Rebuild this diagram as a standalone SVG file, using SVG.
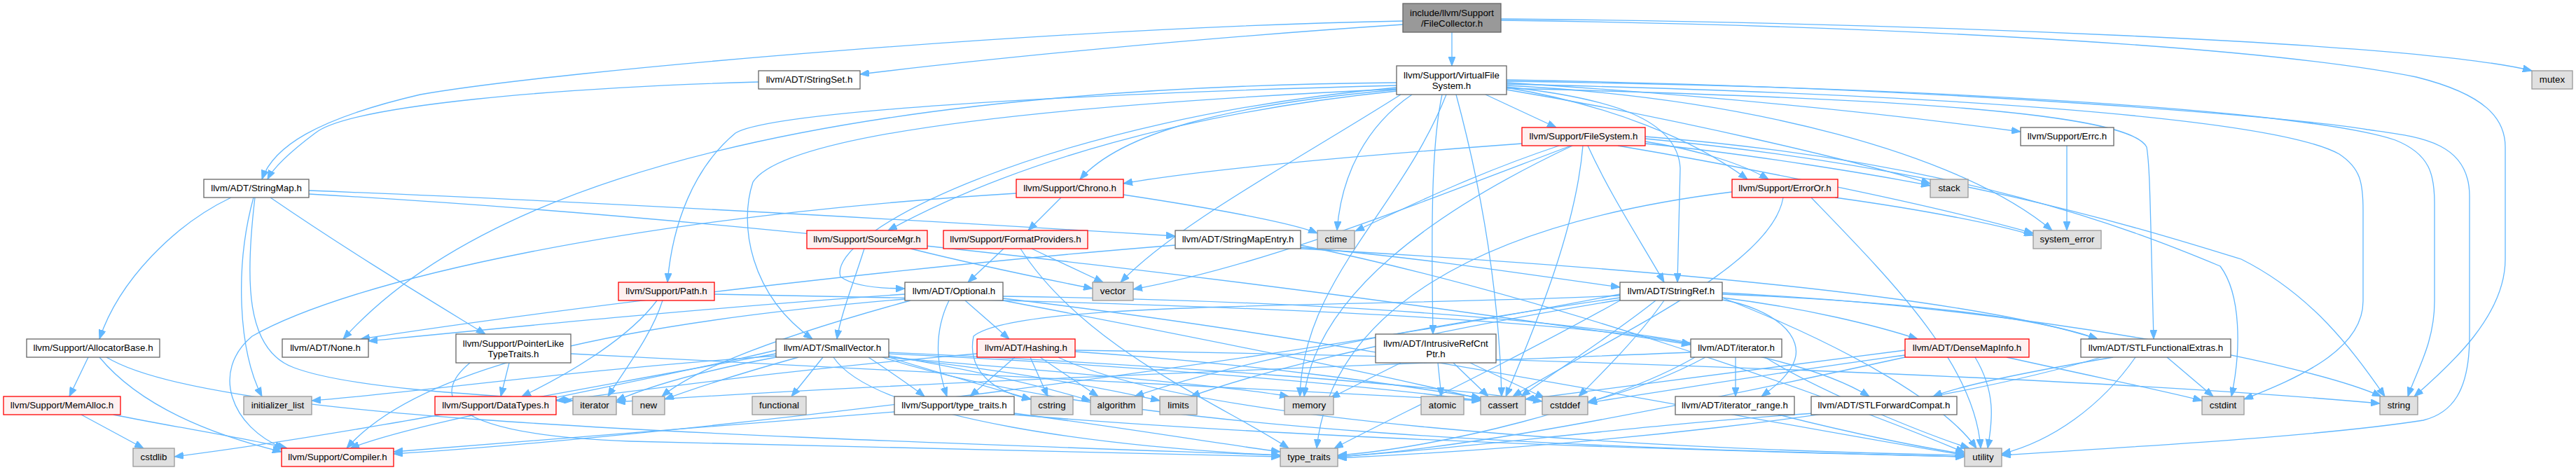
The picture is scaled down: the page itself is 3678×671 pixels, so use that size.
<svg xmlns="http://www.w3.org/2000/svg" width="3678" height="671" viewBox="0 0 3678 671">
<style>
.node rect{stroke-width:1.3}
.w rect{fill:#ffffff;stroke:#666666}
.r rect{fill:#FFF0F0;stroke:#FF0000}
.g rect{fill:#E0E0E0;stroke:#999999}
.root rect{fill:#999999;stroke:#666666}
text{font-family:"Liberation Sans",Arial,Helvetica,sans-serif;font-size:13.33px;text-anchor:middle;fill:#000000}
#edges path{fill:none;stroke:#63B8FF;stroke-width:1.3;marker-end:url(#a)}
</style>
<defs>
<marker id="a" markerWidth="13" markerHeight="10" refX="13" refY="5" orient="auto" markerUnits="userSpaceOnUse"><path d="M0,0L13,5L0,10z" fill="#63B8FF" stroke="#63B8FF" stroke-width="1"/></marker>
</defs>
<rect width="3678" height="671" fill="#ffffff"/>
<g id="edges">
<path d="M2003,30 C1500,40 800,100 600,135 C450,170 390,210 374,256"/>
<path d="M2003,35 C1700,55 1400,85 1228,106"/>
<path d="M2073,46 L2073,94"/>
<path d="M2143,27 C2700,32 3450,60 3615,101"/>
<path d="M2143,29 C2600,35 3200,60 3450,110 C3550,135 3577,170 3577,210 L3577,370 C3577,450 3500,520 3447,566"/>
<path d="M1083,117 C800,125 500,150 450,190 C410,220 390,240 382,256"/>
<path d="M441,272 C900,290 1400,320 1678,337"/>
<path d="M441,277 C1200,320 2000,430 2414,492"/>
<path d="M330,282 C250,320 170,400 142,484"/>
<path d="M362,282 C335,380 340,500 374,566"/>
<path d="M364,282 C350,400 350,500 420,525 C500,555 700,565 818,572"/>
<path d="M386,282 C500,360 600,420 693,477"/>
<path d="M1994,128 C1750,150 1600,190 1542,256"/>
<path d="M1994,130 C1700,160 1450,230 1268,329"/>
<path d="M1994,122 C1500,135 1100,160 1050,190 C990,240 960,320 953,403"/>
<path d="M1994,125 C1500,170 1180,330 1200,395 C1220,410 1260,412 1292,412"/>
<path d="M1994,127 C1500,150 1120,190 1075,260 C1055,320 1070,420 1160,484"/>
<path d="M1994,118 C1200,125 700,250 490,484"/>
<path d="M2000,135 C1850,230 1680,320 1600,403"/>
<path d="M2065,135 C2000,300 1860,400 1856,566"/>
<path d="M2016,135 C1950,180 1915,250 1909,329"/>
<path d="M2059,135 C2045,200 2043,300 2046,477"/>
<path d="M2079,135 C2110,250 2140,400 2144,566"/>
<path d="M2121,135 L2222,182"/>
<path d="M2151,124 C2300,140 2395,170 2399,240 L2395,403"/>
<path d="M2151,118 C2500,140 2750,170 2885,188"/>
<path d="M2151,125 C2300,150 2420,200 2495,256"/>
<path d="M2151,128 C2400,170 2650,230 2756,262"/>
<path d="M2151,122 C2500,140 2800,220 2930,329"/>
<path d="M2151,116 C2800,125 3300,160 3420,200 C3470,220 3476,250 3476,290 L3476,430 C3476,490 3450,530 3438,566"/>
<path d="M2151,120 C2800,135 3250,170 3340,220 C3370,240 3374,260 3374,300 L3374,430 C3374,500 3280,540 3204,570"/>
<path d="M2151,126 C2700,140 3040,160 3065,210 C3070,240 3070,300 3075,484"/>
<path d="M2151,114 C2800,125 3300,170 3380,185 C3450,195 3526,200 3526,280 L3526,480 C3526,560 3500,590 3460,600 C3300,625 3000,640 2858,650"/>
<path d="M2173,205 C1900,225 1700,245 1604,262"/>
<path d="M2226,208 C2100,250 2000,300 1935,330"/>
<path d="M2243,208 C2000,300 1800,380 1618,413"/>
<path d="M2245,208 C2050,300 1880,420 1862,566"/>
<path d="M2260,208 C2250,330 2190,470 2150,566"/>
<path d="M2267,208 C2300,280 2340,340 2376,403"/>
<path d="M2349,202 C2430,215 2490,235 2525,256"/>
<path d="M2349,205 C2500,220 2680,250 2756,265"/>
<path d="M2310,208 C2500,240 2750,290 2903,333"/>
<path d="M2349,198 C2800,240 3100,340 3200,370 C3300,420 3360,500 3405,566"/>
<path d="M2349,195 C2800,230 3050,330 3170,380 C3200,420 3200,500 3186,566"/>
<path d="M1515,282 L1468,329"/>
<path d="M1604,278 C1750,300 1850,320 1881,333"/>
<path d="M1451,276 C900,310 500,400 360,480 C300,530 330,610 405,640"/>
<path d="M2620,282 C2750,300 2850,320 2903,336"/>
<path d="M2546,282 C2530,380 2300,480 2160,566"/>
<path d="M2473,274 C2100,320 1900,450 1880,640"/>
<path d="M2586,282 C2700,400 2820,520 2828,640"/>
<path d="M2951,208 L2951,329"/>
<path d="M1234,355 C1220,400 1200,450 1195,484"/>
<path d="M1300,355 C1400,380 1500,400 1560,412"/>
<path d="M1433,355 L1382,403"/>
<path d="M1473,355 L1575,403"/>
<path d="M1457,355 C1550,500 1750,580 1840,640"/>
<path d="M1678,350 C1300,380 800,440 515,484"/>
<path d="M1857,353 C2050,370 2200,395 2313,410"/>
<path d="M1857,355 C2300,380 2800,420 2995,484"/>
<path d="M1857,350 C2200,420 2600,560 2805,646"/>
<path d="M938,429 C900,480 820,530 745,566"/>
<path d="M946,429 C930,480 890,530 868,566"/>
<path d="M1020,420 C1600,430 2200,450 2414,491"/>
<path d="M1355,429 C1330,480 1340,530 1352,566"/>
<path d="M1378,429 L1441,484"/>
<path d="M1292,420 C1000,440 700,470 526,487"/>
<path d="M1292,427 C900,460 600,520 495,640"/>
<path d="M1432,423 C1900,430 2500,460 2669,566"/>
<path d="M1432,429 C1700,480 2000,540 2114,570"/>
<path d="M1300,429 C1150,470 1000,520 945,566"/>
<path d="M1432,426 C1900,480 2500,600 2805,650"/>
<path d="M1108,500 C900,550 600,600 500,640"/>
<path d="M1240,510 C1270,530 1300,550 1320,566"/>
<path d="M1269,508 C1400,530 1500,555 1557,572"/>
<path d="M1269,505 C1600,520 1950,550 2114,572"/>
<path d="M1269,503 C1650,520 2050,550 2202,573"/>
<path d="M1108,505 C800,560 500,620 249,652"/>
<path d="M1269,510 C1350,535 1420,555 1472,570"/>
<path d="M1175,510 L1130,566"/>
<path d="M1108,508 C800,530 600,560 445,572"/>
<path d="M1108,510 C1000,530 930,550 880,572"/>
<path d="M1269,510 C1450,530 1580,555 1656,572"/>
<path d="M1269,510 C1500,530 1750,550 1840,566"/>
<path d="M1140,510 C1050,535 990,555 949,570"/>
<path d="M1190,510 C1250,600 1600,640 1828,650"/>
<path d="M1260,510 C1600,620 2300,640 2805,652"/>
<path d="M1395,505 C1100,530 900,560 794,572"/>
<path d="M1449,510 L1385,566"/>
<path d="M1471,510 L1496,566"/>
<path d="M1485,510 L1568,566"/>
<path d="M1535,502 C1800,520 2000,550 2114,568"/>
<path d="M1535,500 C2200,510 3000,540 3398,576"/>
<path d="M1511,510 C1700,600 2300,640 2805,650"/>
<path d="M2000,518 L1900,568"/>
<path d="M2053,518 L2058,566"/>
<path d="M2075,518 L2125,566"/>
<path d="M2099,518 L2205,568"/>
<path d="M2459,425 C2580,440 2680,465 2738,484"/>
<path d="M2459,420 C2700,430 2900,450 2995,484"/>
<path d="M2459,428 C2530,440 2580,480 2560,520 C2550,540 2530,555 2515,566"/>
<path d="M2313,420 C1800,520 1000,620 562,648"/>
<path d="M2313,425 C2000,470 1750,520 1620,566"/>
<path d="M2364,429 C2300,480 2220,530 2172,566"/>
<path d="M2376,429 C2340,480 2290,530 2254,566"/>
<path d="M2313,422 C1900,440 1450,430 1390,480 C1380,530 1420,560 1472,570"/>
<path d="M2313,428 C2000,480 1800,530 1700,566"/>
<path d="M2459,418 C2900,440 3300,520 3400,566"/>
<path d="M2313,429 C2150,520 1980,600 1905,640"/>
<path d="M2459,425 C2650,500 2780,580 2822,640"/>
<path d="M2478,510 L2478,566"/>
<path d="M2435,510 C2380,540 2320,560 2267,574"/>
<path d="M2414,503 C2000,520 1300,545 880,574"/>
<path d="M2420,510 C2300,580 2050,640 1910,650"/>
<path d="M2520,510 C2600,560 2750,620 2812,640"/>
<path d="M2720,500 C2500,530 2300,555 2178,570"/>
<path d="M2720,507 C2550,530 2400,555 2267,575"/>
<path d="M2865,510 C3000,540 3100,560 3144,572"/>
<path d="M2820,510 C2850,560 2845,600 2838,640"/>
<path d="M2720,510 C2400,580 2100,640 1910,652"/>
<path d="M3017,510 C2900,530 2800,550 2760,566"/>
<path d="M3094,510 L3160,566"/>
<path d="M3000,510 C2700,600 2200,640 1910,654"/>
<path d="M3049,510 C3000,580 2930,630 2858,648"/>
<path d="M126,510 L99,566"/>
<path d="M142,510 C200,580 300,620 402,645"/>
<path d="M152,510 C300,600 1000,620 1828,650"/>
<path d="M727,518 L715,566"/>
<path d="M815,505 C1300,530 1800,555 2114,572"/>
<path d="M671,518 C620,560 620,620 900,630 C1300,640 1600,648 1828,652"/>
<path d="M116,592 L205,640"/>
<path d="M162,592 C250,610 350,625 410,640"/>
<path d="M2539,592 C2650,620 2750,640 2805,648"/>
<path d="M2590,590 C2300,610 2100,640 1910,652"/>
<path d="M1277,588 C1000,610 700,635 562,645"/>
<path d="M1448,590 C1600,610 1750,635 1828,645"/>
<path d="M1448,592 C1900,630 2500,645 2805,652"/>
</g>
<g id="n0" class="node root"><rect x="2003" y="5" width="140" height="41"/><text x="2073" y="23">include/llvm/Support</text><text x="2073" y="38">/FileCollector.h</text></g>
<g id="n1" class="node w"><rect x="291" y="256" width="150" height="26"/><text x="366" y="273">llvm/ADT/StringMap.h</text></g>
<g id="n2" class="node w"><rect x="1083" y="101" width="145" height="26"/><text x="1155.5" y="118">llvm/ADT/StringSet.h</text></g>
<g id="n3" class="node w"><rect x="1994" y="94" width="157" height="41"/><text x="2072.5" y="112">llvm/Support/VirtualFile</text><text x="2072.5" y="127">System.h</text></g>
<g id="n4" class="node g"><rect x="3615" y="101" width="58" height="26"/><text x="3644" y="118">mutex</text></g>
<g id="n5" class="node g"><rect x="3398" y="566" width="54" height="26"/><text x="3425" y="583">string</text></g>
<g id="n6" class="node r"><rect x="2173" y="182" width="176" height="26"/><text x="2261" y="199">llvm/Support/FileSystem.h</text></g>
<g id="n7" class="node w"><rect x="2885" y="182" width="133" height="26"/><text x="2951.5" y="199">llvm/Support/Errc.h</text></g>
<g id="n8" class="node r"><rect x="1451" y="256" width="153" height="26"/><text x="1527.5" y="273">llvm/Support/Chrono.h</text></g>
<g id="n9" class="node r"><rect x="2473" y="256" width="151" height="26"/><text x="2548.5" y="273">llvm/Support/ErrorOr.h</text></g>
<g id="n10" class="node g"><rect x="2756" y="256" width="54" height="26"/><text x="2783" y="273">stack</text></g>
<g id="n11" class="node r"><rect x="1152" y="329" width="172" height="26"/><text x="1238" y="346">llvm/Support/SourceMgr.h</text></g>
<g id="n12" class="node r"><rect x="1347" y="329" width="206" height="26"/><text x="1450" y="346">llvm/Support/FormatProviders.h</text></g>
<g id="n13" class="node w"><rect x="1678" y="329" width="179" height="26"/><text x="1767.5" y="346">llvm/ADT/StringMapEntry.h</text></g>
<g id="n14" class="node g"><rect x="1881" y="329" width="53" height="26"/><text x="1907.5" y="346">ctime</text></g>
<g id="n15" class="node g"><rect x="2903" y="329" width="97" height="26"/><text x="2951.5" y="346">system_error</text></g>
<g id="n16" class="node r"><rect x="883" y="403" width="137" height="26"/><text x="951.5" y="420">llvm/Support/Path.h</text></g>
<g id="n17" class="node w"><rect x="1292" y="403" width="140" height="26"/><text x="1362" y="420">llvm/ADT/Optional.h</text></g>
<g id="n18" class="node g"><rect x="1560" y="403" width="58" height="26"/><text x="1589" y="420">vector</text></g>
<g id="n19" class="node w"><rect x="2313" y="403" width="146" height="26"/><text x="2386" y="420">llvm/ADT/StringRef.h</text></g>
<g id="n20" class="node w"><rect x="38" y="484" width="190" height="26"/><text x="133" y="501">llvm/Support/AllocatorBase.h</text></g>
<g id="n21" class="node w"><rect x="651" y="477" width="164" height="41"/><text x="733" y="495">llvm/Support/PointerLike</text><text x="733" y="510">TypeTraits.h</text></g>
<g id="n22" class="node w"><rect x="1108" y="484" width="161" height="26"/><text x="1188.5" y="501">llvm/ADT/SmallVector.h</text></g>
<g id="n23" class="node r"><rect x="1395" y="484" width="140" height="26"/><text x="1465" y="501">llvm/ADT/Hashing.h</text></g>
<g id="n24" class="node w"><rect x="1964" y="477" width="172" height="41"/><text x="2050" y="495">llvm/ADT/IntrusiveRefCnt</text><text x="2050" y="510">Ptr.h</text></g>
<g id="n25" class="node w"><rect x="2414" y="484" width="130" height="26"/><text x="2479" y="501">llvm/ADT/iterator.h</text></g>
<g id="n26" class="node r"><rect x="2720" y="484" width="177" height="26"/><text x="2808.5" y="501">llvm/ADT/DenseMapInfo.h</text></g>
<g id="n27" class="node w"><rect x="2971" y="484" width="214" height="26"/><text x="3078" y="501">llvm/ADT/STLFunctionalExtras.h</text></g>
<g id="n28" class="node w"><rect x="403" y="484" width="123" height="26"/><text x="464.5" y="501">llvm/ADT/None.h</text></g>
<g id="n29" class="node r"><rect x="5" y="566" width="167" height="26"/><text x="88.5" y="583">llvm/Support/MemAlloc.h</text></g>
<g id="n30" class="node g"><rect x="348" y="566" width="97" height="26"/><text x="396.5" y="583">initializer_list</text></g>
<g id="n31" class="node r"><rect x="621" y="566" width="173" height="26"/><text x="707.5" y="583">llvm/Support/DataTypes.h</text></g>
<g id="n32" class="node g"><rect x="818" y="566" width="62" height="26"/><text x="849" y="583">iterator</text></g>
<g id="n33" class="node g"><rect x="903" y="566" width="46" height="26"/><text x="926" y="583">new</text></g>
<g id="n34" class="node g"><rect x="1074" y="566" width="77" height="26"/><text x="1112.5" y="583">functional</text></g>
<g id="n35" class="node w"><rect x="1277" y="566" width="171" height="26"/><text x="1362.5" y="583">llvm/Support/type_traits.h</text></g>
<g id="n36" class="node g"><rect x="1472" y="566" width="60" height="26"/><text x="1502" y="583">cstring</text></g>
<g id="n37" class="node g"><rect x="1557" y="566" width="74" height="26"/><text x="1594" y="583">algorithm</text></g>
<g id="n38" class="node g"><rect x="1656" y="566" width="53" height="26"/><text x="1682.5" y="583">limits</text></g>
<g id="n39" class="node g"><rect x="1834" y="566" width="70" height="26"/><text x="1869" y="583">memory</text></g>
<g id="n40" class="node g"><rect x="2029" y="566" width="61" height="26"/><text x="2059.5" y="583">atomic</text></g>
<g id="n41" class="node g"><rect x="2114" y="566" width="64" height="26"/><text x="2146" y="583">cassert</text></g>
<g id="n42" class="node g"><rect x="2202" y="566" width="65" height="26"/><text x="2234.5" y="583">cstddef</text></g>
<g id="n43" class="node w"><rect x="2392" y="566" width="170" height="26"/><text x="2477" y="583">llvm/ADT/iterator_range.h</text></g>
<g id="n44" class="node w"><rect x="2586" y="566" width="208" height="26"/><text x="2690" y="583">llvm/ADT/STLForwardCompat.h</text></g>
<g id="n45" class="node g"><rect x="3144" y="566" width="60" height="26"/><text x="3174" y="583">cstdint</text></g>
<g id="n46" class="node g"><rect x="190" y="640" width="59" height="26"/><text x="219.5" y="657">cstdlib</text></g>
<g id="n47" class="node r"><rect x="402" y="640" width="160" height="26"/><text x="482" y="657">llvm/Support/Compiler.h</text></g>
<g id="n48" class="node g"><rect x="1828" y="640" width="82" height="26"/><text x="1869" y="657">type_traits</text></g>
<g id="n49" class="node g"><rect x="2805" y="640" width="53" height="26"/><text x="2831.5" y="657">utility</text></g>
</svg>
